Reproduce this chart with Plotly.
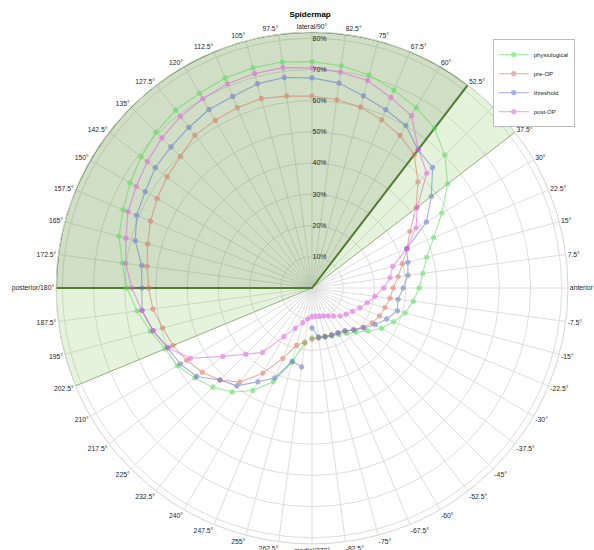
import plotly.graph_objects as go

# ---------------- data ----------------
angles = [-90, -82.5, -75, -67.5, -60, -52.5, -45, -37.5, -30, -22.5, -15, -7.5,
          0, 7.5, 15, 22.5, 30, 37.5, 45, 52.5, 60, 67.5, 75, 82.5,
          90, 97.5, 105, 112.5, 120, 127.5, 135, 142.5, 150, 157.5, 165, 172.5,
          180, 187.5, 195, 202.5, 210, 217.5, 225, 232.5, 240, 247.5, 255, 262.5]

physiological = [16.0, 16.0, 16.2, 16.6, 17.3, 18.3, 20.0, 22.6, 25.8, 28.3, 30.9, 32.7,
                 34.3, 35.8, 38.0, 42.2, 48.0, 54.8, 60.2, 64.5, 66.7, 68.6, 70.6, 71.8,
                 72.5, 73.0, 73.0, 72.8, 72.0, 71.8, 70.6, 69.0, 67.3, 65.5, 64.0, 61.3,
                 59.3, 56.5, 53.6, 50.9, 49.8, 47.3, 44.9, 42.0, 37.9, 32.5, 24.6, 17.9]

pre_op = [16.4, 16.2, 16.0, 16.2, 16.6, 17.4, 18.8, 20.6, 22.3, 23.4, 24.2, 25.2,
          26.0, 27.8, 30.0, 33.0, 36.2, 42.0, 48.0, 53.8, 56.4, 58.3, 60.0, 60.8,
          61.5, 62.0, 62.8, 62.5, 62.0, 61.6, 59.6, 58.5, 57.3, 56.0, 54.5, 53.3,
          52.3, 51.4, 49.5, 48.2, 46.3, 44.3, 41.7, 38.0, 31.5, 24.4, 19.0, 17.5]

threshold = [12.8, 15.8, 16.2, 16.4, 16.6, 17.3, 19.0, 21.0, 23.4, 25.9, 28.3, 27.8,
             29.2, 31.0, 31.8, 32.8, 42.3, 48.2, 54.6, 55.8, 60.1, 61.8, 63.7, 66.2,
             67.3, 68.0, 67.7, 66.4, 66.0, 64.8, 63.9, 63.3, 61.7, 60.8, 58.6, 55.0,
             54.5, 54.9, 52.7, 50.0, 48.7, 46.6, 41.7, 39.5, 34.7, 31.2, 24.3, 25.5]

post_op = [9.1, 9.1, 9.3, 9.7, 10.4, 11.3, 12.7, 13.8, 15.0, 16.6, 18.3, 20.4,
           23.0, 25.2, 26.8, 32.8, 38.5, 42.5, 52.0, 56.0, 63.7, 66.0, 68.8, 69.7,
           70.5, 71.2, 71.1, 70.8, 70.0, 69.2, 68.0, 66.5, 65.0, 63.8, 61.7, 60.2,
           57.7, 55.0, 52.7, 50.0, 45.0, 36.0, 30.0, 26.0, 18.0, 14.0, 11.5, 10.0]

series_names = ["physiological", "pre-OP", "threshold", "post-OP"]

tick_vals = [0, 7.5, 15, 22.5, 30, 37.5, 45, 52.5, 60, 67.5, 75, 82.5,
             90, 97.5, 105, 112.5, 120, 127.5, 135, 142.5, 150, 157.5, 165, 172.5,
             180, 187.5, 195, 202.5, 210, 217.5, 225, 232.5, 240, 247.5, 255, 262.5,
             270, 277.5, 285, 292.5, 300, 307.5, 315, 322.5, 330, 337.5, 345, 352.5]
tick_text = ["anterior", "7.5°", "15°", "22.5°", "30°", "37.5°", "45°", "52.5°", "60°", "67.5°", "75°", "82.5°",
             "lateral/90°", "97.5°", "105°", "112.5°", "120°", "127.5°", "135°", "142.5°", "150°", "157.5°", "165°", "172.5°",
             "posterior/180°", "187.5°", "195°", "202.5°", "210°", "217.5°", "225°", "232.5°", "240°", "247.5°", "255°", "262.5°",
             "medial/270°", "-82.5°", "-75°", "-67.5°", "-60°", "-52.5°", "-45°", "-37.5°", "-30°", "-22.5°", "-15°", "-7.5°"]

r_ticks = [10, 20, 30, 40, 50, 60, 70, 80]
r_tick_text = ["10%", "20%", "30%", "40%", "50%", "60%", "70%", "80%"]
r_max = 82

light_sector = [37.5, 202.5]   # start, end angle
dark_sector = [52.5, 180]

# ---------------- figure ----------------
fig = go.Figure()

fig.add_trace(go.Barpolar(
    r=[r_max], theta=[(light_sector[0] + light_sector[1]) / 2],
    width=[light_sector[1] - light_sector[0]],
    marker=dict(color="rgba(125,195,80,0.20)", line=dict(color="rgba(90,150,50,0.5)", width=1)),
    showlegend=False, hoverinfo="skip"))

fig.add_trace(go.Barpolar(
    r=[r_max], theta=[(dark_sector[0] + dark_sector[1]) / 2],
    width=[dark_sector[1] - dark_sector[0]],
    marker=dict(color="rgba(80,105,60,0.15)", line=dict(color="rgb(80,125,50)", width=2)),
    showlegend=False, hoverinfo="skip"))

colors = ["rgb(80,220,80)", "rgb(215,115,95)", "rgb(95,115,200)", "rgb(225,90,225)"]
for name, vals, col in zip(series_names, [physiological, pre_op, threshold, post_op], colors):
    fig.add_trace(go.Scatterpolar(
        r=vals, theta=angles, mode="lines+markers", name=name,
        line=dict(color=col, width=1.1),
        marker=dict(symbol="circle", size=4.5, color=col, line=dict(color=col, width=1)),
        opacity=0.55))

fig.update_layout(
    width=594, height=550,
    margin=dict(l=56, r=26, t=32, b=6, pad=0),
    paper_bgcolor="white",
    font=dict(family="Liberation Sans, Arial, sans-serif", size=7, color="#262626"),
    title=dict(text="<b>Spidermap</b>", x=0.522, xanchor="center", y=0.979, yanchor="top",
               font=dict(size=8, color="#000000")),
    polar=dict(
        domain=dict(x=[0, 1], y=[0, 1]),
        bgcolor="white",
        bargap=0,
        angularaxis=dict(
            rotation=0, direction="counterclockwise",
            tickmode="array", tickvals=tick_vals, ticktext=tick_text,
            showgrid=True, gridcolor="#dedede", gridwidth=1,
            showline=True, linecolor="#d4d4d4", linewidth=1,
            ticks="", ticklen=0, tickfont=dict(size=6.8, color="#262626")),
        radialaxis=dict(
            range=[0, r_max], angle=90, tickangle=90,
            tickmode="array", tickvals=r_ticks, ticktext=r_tick_text,
            showgrid=True, gridcolor="#dedede", gridwidth=1,
            showline=False, ticks="", side="clockwise",
            tickfont=dict(size=7, color="#262626")),
    ),
    legend=dict(x=0.853, y=0.986, xanchor="left", yanchor="top",
                bgcolor="white", bordercolor="#bdbdbd", borderwidth=1,
                font=dict(size=6, color="#262626"), itemwidth=30,
                tracegroupgap=0),
)

fig.write_html("out.html",
               config={"displayModeBar": False},
               post_script="document.body.style.margin='0px';document.body.style.overflow='hidden';")
